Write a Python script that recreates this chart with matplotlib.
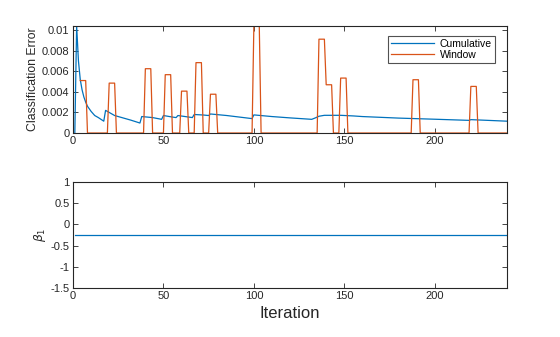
"""
Recreate classification error / beta_1 figure for online learning run.
"""
import matplotlib
matplotlib.use('Agg')
import matplotlib.pyplot as plt
import numpy as np
from matplotlib.ticker import FormatStrFormatter

# Cumulative classification error, read at selected iterations
cum_iter = [1, 2, 3, 4, 5, 6, 7, 8, 10, 12, 14, 17, 18, 20, 23, 27, 32, 37,
            38, 44, 49, 50, 55, 57, 58, 62, 66, 67, 72, 75, 76, 85, 99,
            100, 110, 120, 132, 134, 136, 139, 148, 155, 160, 180, 200,
            219, 220, 240]
cum_error = [0.0, 0.0104, 0.0070, 0.0052, 0.0042, 0.0035, 0.0030, 0.0026,
             0.0021, 0.0017, 0.0015, 0.00115, 0.0022, 0.0020, 0.0017,
             0.0015, 0.00125, 0.00097, 0.0016, 0.0015, 0.00133, 0.0017,
             0.00155, 0.0015, 0.0017, 0.0016, 0.0015, 0.0018, 0.00175,
             0.0017, 0.00185, 0.0017, 0.0014, 0.00176, 0.0016, 0.00147,
             0.00133, 0.00147, 0.00163, 0.00172, 0.00172, 0.00166, 0.0016,
             0.00145, 0.00134, 0.00123, 0.0013, 0.00115]

# Window classification error: nonzero stretches (first, last, level)
win_first = [4, 20, 40, 51, 60, 68, 76, 100, 136, 140, 148, 188, 220]
win_last = [7, 23, 43, 54, 63, 71, 79, 103, 139, 143, 151, 191, 223]
win_level = [0.0051, 0.00485, 0.00625, 0.00567, 0.00407, 0.00684, 0.00377,
             0.0104, 0.00912, 0.00469, 0.00534, 0.00518, 0.00453]

# Estimated coefficient beta_1 (constant over the run)
beta1_value = -0.25
n_iter = 240

BLUE = '#0072BD'
ORANGE = '#D95319'
AX_COLOR = '#262626'

plt.rcParams['font.family'] = ['Liberation Sans', 'DejaVu Sans']
plt.rcParams['axes.unicode_minus'] = False
plt.rcParams['mathtext.fontset'] = 'dejavusans'

# build the window series from the stretches
win_iter = np.arange(4, n_iter + 1)
win_error = np.zeros(len(win_iter))
for first, last, level in zip(win_first, win_last, win_level):
    win_error[(win_iter >= first) & (win_iter <= last)] = level

iterations = np.arange(1, n_iter + 1)
beta1 = np.full(n_iter, beta1_value)

fig = plt.figure(figsize=(5.6, 3.37), dpi=100)
ax1 = fig.add_axes([0.1304, 0.6053, 0.775, 0.3175])
ax2 = fig.add_axes([0.1304, 0.1454, 0.775, 0.3145])


def style_axes(ax):
    for side in ax.spines.values():
        side.set_color(AX_COLOR)
        side.set_linewidth(0.8)
    ax.tick_params(direction='in', top=True, right=True, length=3.5,
                   width=0.6, colors=AX_COLOR, labelsize=8, pad=2.5)


ax1.plot(cum_iter, cum_error, color=BLUE, lw=0.9, label='Cumulative')
ax1.plot(win_iter, win_error, color=ORANGE, lw=0.9, label='Window')
ax1.set_xlim(0, n_iter)
ax1.set_ylim(0, 0.0104)
ax1.set_xticks([0, 50, 100, 150, 200])
ax1.set_yticks([0, 0.002, 0.004, 0.006, 0.008, 0.01])
ax1.yaxis.set_major_formatter(FormatStrFormatter('%g'))
ax1.set_ylabel('Classification Error', fontsize=8.8, color=AX_COLOR,
               labelpad=2)
style_axes(ax1)
leg = ax1.legend(loc='upper right', fontsize=7.5, frameon=True, fancybox=False,
                 edgecolor=AX_COLOR, borderpad=0.3, handlelength=4.2,
                 handletextpad=0.5, labelspacing=0.1, borderaxespad=0,
                 bbox_to_anchor=(0.972, 0.91))
leg.get_frame().set_linewidth(0.8)

ax2.plot(iterations, beta1, color=BLUE, lw=0.9)
ax2.set_xlim(0, n_iter)
ax2.set_ylim(-1.5, 1)
ax2.set_xticks([0, 50, 100, 150, 200])
ax2.set_yticks([-1.5, -1, -0.5, 0, 0.5, 1])
ax2.yaxis.set_major_formatter(FormatStrFormatter('%g'))
ax2.set_ylabel(r'$\beta_1$', fontsize=8.8, color=AX_COLOR, labelpad=2)
ax2.set_xlabel('Iteration', fontsize=12, color=AX_COLOR, labelpad=3)
style_axes(ax2)

fig.savefig('out.png', dpi=100)
plt.close(fig)
